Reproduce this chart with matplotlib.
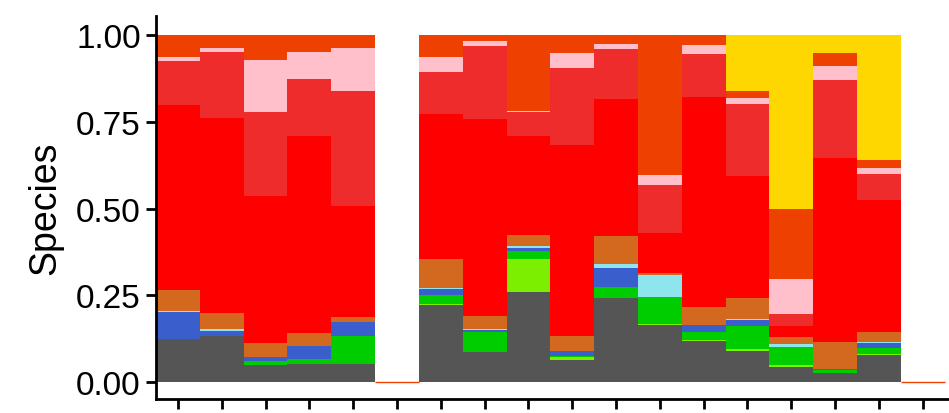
import numpy as np
import matplotlib.pyplot as plt

plt.rcParams['font.family'] = ['Liberation Sans', 'DejaVu Sans']

# 18 samples (6 and 18 are empty)
samples = np.arange(1, 19)

# cumulative tops of each species per sample, bottom -> top
species = ["gray", "lime", "green", "blue", "cyan", "chocolate",
           "red", "red2", "pink", "orangered", "gold"]
colors = ["#555555", "#7CEE00", "#00CD00", "#3A5FCD", "#8EE5EE", "#D2691E",
          "#FF0000", "#EE2C2C", "#FFC0CB", "#EE4000", "#FFD700"]

cum_tops = [
    [0.125, 0.125, 0.125, 0.201, 0.204, 0.264, 0.799, 0.926, 0.937, 1.0, 1.0],
    [0.132, 0.132, 0.132, 0.146, 0.154, 0.198, 0.762, 0.951, 0.963, 1.0, 1.0],
    [0.049, 0.049, 0.060, 0.072, 0.072, 0.112, 0.535, 0.777, 0.928, 1.0, 1.0],
    [0.052, 0.052, 0.066, 0.104, 0.104, 0.141, 0.710, 0.874, 0.951, 1.0, 1.0],
    [0.052, 0.052, 0.132, 0.173, 0.173, 0.187, 0.506, 0.840, 0.963, 1.0, 1.0],
    [0, 0, 0, 0, 0, 0, 0, 0, 0, 0, 0],
    [0.221, 0.225, 0.250, 0.267, 0.271, 0.354, 0.774, 0.895, 0.938, 1.0, 1.0],
    [0.086, 0.086, 0.144, 0.149, 0.152, 0.190, 0.759, 0.969, 0.984, 1.0, 1.0],
    [0.259, 0.356, 0.379, 0.385, 0.393, 0.425, 0.708, 0.777, 0.782, 1.0, 1.0],
    [0.063, 0.073, 0.075, 0.089, 0.089, 0.133, 0.682, 0.906, 0.949, 1.0, 1.0],
    [0.242, 0.242, 0.273, 0.328, 0.339, 0.420, 0.817, 0.961, 0.975, 1.0, 1.0],
    [0.165, 0.168, 0.244, 0.244, 0.308, 0.314, 0.429, 0.567, 0.598, 1.0, 1.0],
    [0.118, 0.121, 0.144, 0.164, 0.164, 0.216, 0.823, 0.946, 0.972, 1.0, 1.0],
    [0.089, 0.095, 0.161, 0.178, 0.181, 0.242, 0.593, 0.802, 0.820, 0.840, 1.0],
    [0.043, 0.049, 0.101, 0.101, 0.109, 0.129, 0.161, 0.196, 0.296, 0.498, 1.0],
    [0.026, 0.026, 0.035, 0.037, 0.037, 0.115, 0.647, 0.872, 0.912, 0.949, 1.0],
    [0.078, 0.081, 0.098, 0.112, 0.115, 0.144, 0.526, 0.601, 0.618, 0.641, 1.0],
    [0, 0, 0, 0, 0, 0, 0, 0, 0, 0, 0],
]

tops = np.array(cum_tops)
bottoms = np.hstack([np.zeros((len(samples), 1)), tops[:, :-1]])
heights = tops - bottoms

fig = plt.figure(figsize=(9.49, 4.14), dpi=100)
ax = fig.add_axes([0.1644, 0.0338, 0.8356, 0.925])

for i, (name, col) in enumerate(zip(species, colors)):
    ax.bar(samples, heights[:, i], bottom=bottoms[:, i], width=1.0,
           color=col, linewidth=0, label=name)

# empty samples show a thin line at zero
empty = tops[:, -1] == 0
ax.bar(samples[empty], np.zeros(empty.sum()), width=1.0,
       edgecolor="#EE4000", linewidth=1.0, color="none")

ax.set_xlim(0.5, 18.6)
ax.set_ylim(-0.049, 1.055)
ax.set_xticks(samples)
ax.set_xticklabels([])
ax.set_yticks([0, 0.25, 0.5, 0.75, 1.0])
ax.set_yticklabels(["0.00", "0.25", "0.50", "0.75", "1.00"])
ax.tick_params(axis="y", labelsize=24, length=7, width=2, pad=4)
ax.tick_params(axis="x", length=7, width=2)
ax.set_ylabel("Species", fontsize=27, labelpad=9)

for s in ["top", "right"]:
    ax.spines[s].set_visible(False)
for s in ["left", "bottom"]:
    ax.spines[s].set_linewidth(2)

fig.savefig("out.png", dpi=100)
